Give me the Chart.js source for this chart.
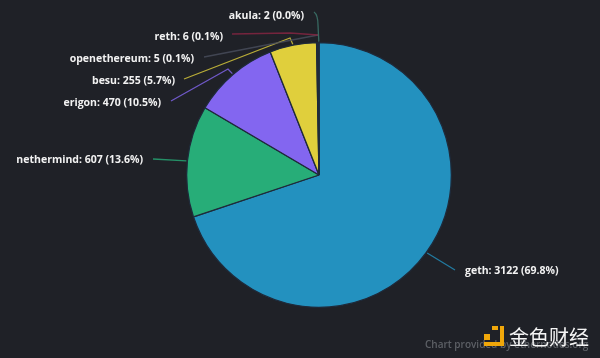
<!DOCTYPE html>
<html>
<head>
<meta charset="utf-8">
<style>
  html, body { margin: 0; padding: 0; background: #1f2127; }
  canvas { display: block; }
</style>
<script src="https://cdn.jsdelivr.net/npm/chart.js@4"></script>
</head>
<body>
<canvas id="chart" width="600" height="358"></canvas>
<script>
var clients = ['geth', 'nethermind', 'erigon', 'besu', 'openethereum', 'reth', 'akula'];
var nodes = [3122, 607, 470, 255, 5, 6, 2];
var shares = ['69.8', '13.6', '10.5', '5.7', '0.1', '0.1', '0.0'];
var colors = ['#2391bf', '#27ad78', '#8366f0', '#e0cf3c', '#4a4f5e', '#8b2544', '#3f7c70'];

// label anchor and the leader bends for each slice, same order as clients
var labelSpots = [
    {x: 465, y: 271, align: 'left', path: [[455, 270]]},
    {x: 143, y: 160, align: 'right', path: [[153, 159]]},
    {x: 161, y: 103, align: 'right', path: [[171, 101], [228, 69]]},
    {x: 175, y: 81, align: 'right', path: [[184, 79], [290, 38]]},
    {x: 194, y: 59, align: 'right', path: [[204, 57], [318, 35]]},
    {x: 223, y: 37, align: 'right', path: [[232, 34], [290, 33], [318, 35]]},
    {x: 304, y: 16, align: 'right', path: [[314, 12], [318, 25]]}
];

var pieLabels = {
    id: 'pieLabels',
    afterDatasetsDraw: function(chart) {
        var ctx = chart.ctx;
        var arcs = chart.getDatasetMeta(0).data;
        ctx.save();
        arcs.forEach(function(arc, i) {
            var spot = labelSpots[i];
            var mid = (arc.startAngle + arc.endAngle) / 2;
            var ex = arc.x + Math.cos(mid) * (arc.outerRadius + 1);
            var ey = arc.y + Math.sin(mid) * (arc.outerRadius + 1);
            ctx.strokeStyle = colors[i];
            ctx.globalAlpha = 0.8;
            ctx.lineWidth = 1.3;
            ctx.beginPath();
            ctx.moveTo(spot.path[0][0], spot.path[0][1]);
            if (clients[i] === 'akula') {
                ctx.quadraticCurveTo(spot.path[1][0], spot.path[0][1] + 3, spot.path[1][0], spot.path[1][1]);
            } else {
                spot.path.slice(1).forEach(function(p) { ctx.lineTo(p[0], p[1]); });
            }
            if (clients[i] !== 'openethereum' && clients[i] !== 'reth') {
                ctx.lineTo(ex, ey);
            }
            ctx.stroke();
            ctx.globalAlpha = 1;

            ctx.fillStyle = '#f2f2f2';
            ctx.font = '700 10.5px "Open Sans"';
            ctx.textAlign = spot.align;
            ctx.textBaseline = 'middle';
            ctx.fillText(clients[i] + ': ' + nodes[i] + ' (' + shares[i] + '%)', spot.x, spot.y);
        });
        ctx.restore();
    }
};

var watermark = {
    id: 'watermark',
    afterDraw: function(chart) {
        var ctx = chart.ctx;
        ctx.save();
        ctx.fillStyle = '#5d6066';
        ctx.font = '600 10px "Open Sans"';
        ctx.textAlign = 'left';
        ctx.textBaseline = 'middle';
        ctx.fillText('Chart provided by ethernodes.org', 425, 345);

        ctx.fillStyle = '#f0a70a';
        ctx.fillRect(484, 334, 6, 6);
        ctx.fillRect(492, 326, 6, 4);
        ctx.fillRect(500, 326, 4, 20);
        ctx.fillRect(484, 342, 20, 4);

        ctx.fillStyle = '#f5f5f5';
        ctx.font = '20px "Noto Sans CJK SC"';
        ctx.fillText('金色财经', 509, 337);
        ctx.restore();
    }
};

var chart = new Chart(document.getElementById('chart'), {
    type: 'pie',
    data: {
        labels: clients,
        datasets: [{
            data: nodes,
            backgroundColor: colors,
            borderColor: '#1f2a3a',
            borderWidth: 1.3
        }]
    },
    options: {
        responsive: false,
        animation: false,
        layout: {padding: {top: 42, bottom: 50, left: 186, right: 148}},
        plugins: {
            legend: {display: false},
            tooltip: {enabled: false}
        }
    },
    plugins: [pieLabels, watermark]
});
</script>
</body>
</html>
